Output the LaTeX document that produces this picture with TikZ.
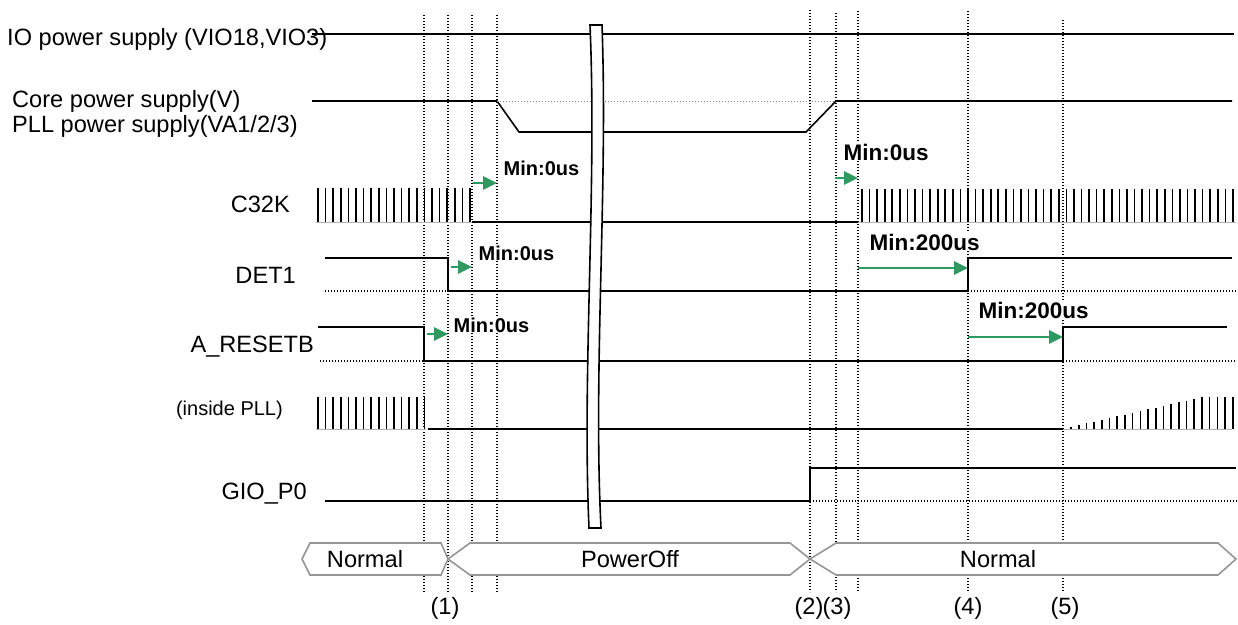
\documentclass[tikz,border=0pt]{standalone}
\usepackage{fontspec}
\setmainfont{Liberation Sans}
\usetikzlibrary{arrows.meta}
\definecolor{mingreen}{RGB}{46,154,98}
\definecolor{bargray}{RGB}{150,150,150}

\begin{document}
\begin{tikzpicture}[x=1pt, y=-1pt,
    sig/.style={line width=1.6pt},
    refline/.style={line width=1.1pt, dash pattern=on 1.3pt off 1.7pt},
    clk/.style={line width=1.6pt},
    clkbase/.style={line width=0.9pt, gray!60},
    minarrow/.style={mingreen, line width=2.8pt, -{Triangle[length=14pt,width=13pt]}},
    minlabel/.style={fill=white, inner sep=0.5pt, anchor=base west},
    signame/.style={inner sep=0pt, anchor=base east},
    statebox/.style={draw=bargray, line width=1.6pt, fill=white},
    fbig/.style={font=\fontsize{23.6}{28}\selectfont},
    fsmall/.style={font=\fontsize{20}{24}\selectfont},
    boldsmall/.style={font=\fontsize{20}{24}\selectfont\bfseries},
    boldbig/.style={font=\fontsize{22.5}{27}\selectfont\bfseries},
  ]
  \useasboundingbox (0,0) rectangle (1238,624);

  % Time markers
  \foreach \x/\top in {424/15, 448/15, 472/15, 497/15, 810/10, 836/13, 858/11, 968/11, 1063/20}
    \draw[refline] (\x,\top) -- (\x,592);

  % IO power supply
  \draw[sig] (312,34) -- (1234,34);

  % Core / PLL power supply
  \draw[sig] (312,101) -- (497,101) -- (519,132) -- (806,132) -- (836,101) -- (1232,101);
  \draw[refline, gray, line width=0.9pt] (497,101) -- (836,101);

  % C32K
  \foreach \k in {0,...,20}
    \draw[clk] (318+\k*7.6,188) -- ++(0,34);
  \draw[clkbase] (316,222) -- (472,222);
  \draw[sig] (472,222) -- (858,222);
  \foreach \k in {0,...,49}
    \draw[clk] (862+\k*7.57,189) -- ++(0,33);
  \draw[clkbase] (858,222) -- (1236,222);

  % DET1
  \draw[sig] (325,258) -- (448,258) -- (448,291) -- (968,291) -- (968,258) -- (1232,258);
  \draw[refline] (325,291) -- (448,291);
  \draw[refline] (968,291) -- (1238,291);

  % A_RESETB
  \draw[sig] (318,327) -- (424,327) -- (424,361) -- (1063,361) -- (1063,327) -- (1227,327);
  \draw[refline] (320,361) -- (424,361);
  \draw[refline] (1063,361) -- (1236,361);

  % Clock inside PLL
  \foreach \k in {0,...,14}
    \draw[clk] (318+\k*7.6,397) -- ++(0,32);
  \draw[clkbase] (316,429) -- (426,429);
  \draw[sig] (428,429) -- (1063,429);
  \foreach \k in {0,...,21} {
    \pgfmathsetmacro\h{min(32,2+1.76*\k)}
    \draw[clk] (1071+\k*7.7,429) -- ++(0,-\h);
  }
  \draw[clkbase] (1063,429) -- (1232,429);

  % GIO_P0
  \draw[sig] (325,501) -- (810,501) -- (810,468) -- (1236,468);
  \draw[refline] (810,501) -- (1238,501);

  % Minimum delays
  \draw[minarrow] (473,183) -- (497,183);
  \node[minlabel, boldsmall] (d1) at (503,175) {Min:0us};
  \draw[minarrow] (451,267) -- (472,267);
  \node[minlabel, boldsmall] (d2) at (478,260) {Min:0us};
  \draw[minarrow] (427,334) -- (448,334);
  \node[minlabel, boldsmall] (d3) at (453,332) {Min:0us};
  \draw[minarrow] (835,178) -- (858,178);
  \node[minlabel, boldbig] (d4) at (843,160) {Min:0us};
  \draw[minarrow] (858,268) -- (968,268);
  \node[minlabel, boldbig] (d5) at (869,250) {Min:200us};
  \draw[minarrow] (968,337) -- (1063,337);
  \node[minlabel, boldbig] (d6) at (978,318) {Min:200us};

  % Time break
  \draw[line width=1.6pt, fill=white] (590,25) -- (602,25)
    .. controls (608,190) and (593,370) .. (601,528) -- (589,528)
    .. controls (582,370) and (597,190) .. (590,25) -- cycle;

  % Signal names
  \node[fbig, inner sep=0pt, anchor=base west] (io) at (7,45) {IO power supply (VIO18,VIO3)};
  \node[fbig, inner sep=0pt, anchor=base west] (core) at (12,107) {Core power supply(V)};
  \node[fbig, inner sep=0pt, anchor=base west] (pllvdd) at (12,132) {PLL power supply(VA1/2/3)};
  \node[fbig, signame] (c32k) at (290,212) {C32K};
  \node[fbig, signame] (det) at (296,283) {DET1};
  \node[fbig, signame] (rst) at (314,352) {A\_RESETB};
  \node[fsmall, signame] (pllclk) at (283,415) {(inside PLL)};
  \node[fbig, signame] (gio) at (307,499) {GIO\_P0};

  % State bar
  \draw[statebox] (302,559) -- (310,543) -- (441,543) -- (448,559) -- (441,575) -- (310,575) -- cycle;
  \draw[statebox] (448,559) -- (470,543) -- (790,543) -- (810,559) -- (790,575) -- (470,575) -- cycle;
  \draw[statebox] (810,559) -- (836,543) -- (1218,543) -- (1236,559) -- (1218,575) -- (836,575) -- cycle;
  \node[fbig, anchor=base] (s1) at (365,567) {Normal};
  \node[fbig, anchor=base] (s2) at (630,567) {PowerOff};
  \node[fbig, anchor=base] (s3) at (998,567) {Normal};

  % Marker numbers
  \foreach \x/\n in {445/1, 809/2, 837/3, 968/4, 1065/5}
    \node[fbig, anchor=base] (n\n) at (\x,614) {(\n)};
\end{tikzpicture}
\end{document}
